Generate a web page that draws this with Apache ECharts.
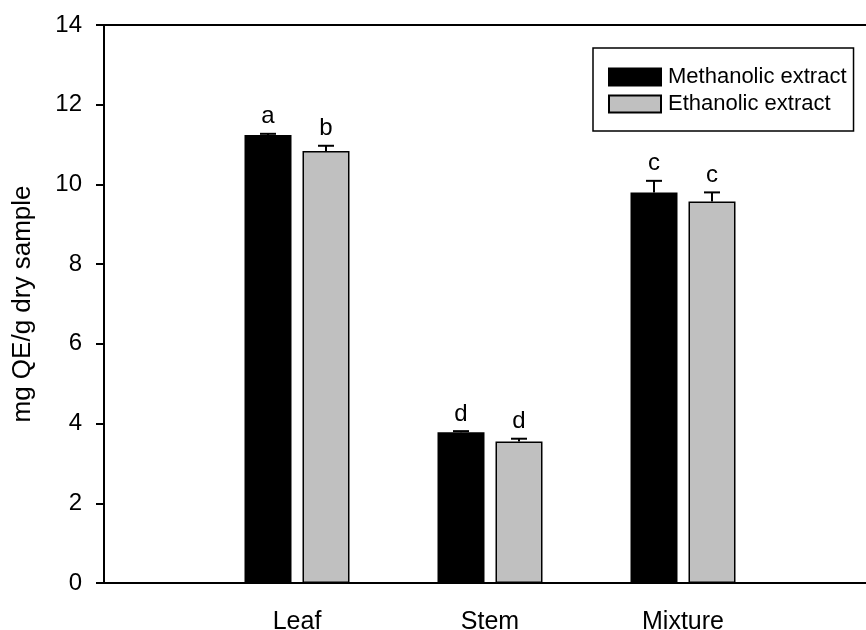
<!DOCTYPE html>
<html>
<head>
<meta charset="utf-8">
<script src="https://cdn.jsdelivr.net/npm/echarts@6/dist/echarts.min.js"></script>
<style>
  html, body { margin: 0; padding: 0; background: #fff; }
  #chart { width: 866px; height: 630px; }
</style>
</head>
<body>
<div id="chart"></div>
<script>
// Plant parts (empty slots pad the axis on both sides)
const categories = ['', 'Leaf', 'Stem', 'Mixture', ''];
// Total flavonoid content, mg QE/g dry sample
const methanolic = [null, 11.24, 3.78, 9.80, null];
const ethanolic = [null, 10.84, 3.55, 9.57, null];
// Standard deviations (upper error bars)
const methanolicErr = [null, 0.03, 0.03, 0.29, null];
const ethanolicErr = [null, 0.13, 0.07, 0.23, null];
// Significance letters
const methanolicLetters = ['', 'a', 'd', 'c', ''];
const ethanolicLetters = ['', 'b', 'd', 'c', ''];
const yTicks = { min: 0, max: 14, interval: 2 };

const FONT = '"Liberation Sans", Arial, sans-serif';
const BAR_W = 47;
const HALF_PITCH = 29; // distance from category centre to each bar centre

function errorSeries(values, errs, letters, offset) {
  const data = [];
  values.forEach((v, i) => {
    if (v != null) data.push([i, v, errs[i]]);
  });
  return {
    type: 'custom',
    z: 5,
    silent: true,
    data: data,
    renderItem: function (params, api) {
      const idx = api.value(0);
      const v = api.value(1);
      const e = api.value(2);
      const base = api.coord([idx, v]);
      const top = api.coord([idx, v + e]);
      const x = base[0] + offset;
      const stroke = { stroke: '#000', lineWidth: 2 };
      return {
        type: 'group',
        children: [
          { type: 'line', shape: { x1: x, y1: base[1], x2: x, y2: top[1] }, style: stroke },
          { type: 'line', shape: { x1: x - 8, y1: top[1], x2: x + 8, y2: top[1] }, style: stroke },
          {
            type: 'text',
            style: {
              text: letters[idx],
              x: x,
              y: top[1] - 5,
              textAlign: 'center',
              textVerticalAlign: 'bottom',
              font: '24px ' + FONT,
              fill: '#000'
            }
          }
        ]
      };
    }
  };
}

const chart = echarts.init(document.getElementById('chart'), null, { renderer: 'canvas' });
chart.setOption({
  animation: false,
  backgroundColor: '#fff',
  textStyle: { fontFamily: FONT, color: '#000' },
  grid: {
    left: 104, top: 25, width: 772, height: 558,
    containLabel: false,
    outerBoundsMode: 'none'
  },
  legend: {
    data: ['Methanolic extract', 'Ethanolic extract'],
    orient: 'vertical',
    left: 593,
    top: 48,
    padding: [18, 7, 16, 15],
    itemGap: 5,
    itemWidth: 52,
    itemHeight: 17,
    borderColor: '#000',
    borderWidth: 1.5,
    borderRadius: 0,
    backgroundColor: '#fff',
    icon: 'rect',
    textStyle: { fontSize: 22, color: '#000', fontFamily: FONT, padding: [0, 0, 0, 2] }
  },
  xAxis: [
    {
      type: 'category',
      data: categories,
      boundaryGap: false,
      axisLine: { show: true, lineStyle: { color: '#000', width: 2 } },
      axisTick: { show: false },
      axisLabel: { fontSize: 25, color: '#000', margin: 27, fontFamily: FONT },
      splitLine: { show: false }
    },
    {
      type: 'category',
      data: categories,
      position: 'top',
      boundaryGap: false,
      axisLine: { show: true, lineStyle: { color: '#000', width: 2 } },
      axisTick: { show: false },
      axisLabel: { show: false },
      splitLine: { show: false }
    }
  ],
  yAxis: {
    type: 'value',
    min: yTicks.min,
    max: yTicks.max,
    interval: yTicks.interval,
    name: 'mg QE/g dry sample',
    nameLocation: 'middle',
    nameGap: 68,
    nameTextStyle: { fontSize: 26, color: '#000', fontFamily: FONT },
    axisLine: { show: true, lineStyle: { color: '#000', width: 2 } },
    axisTick: { show: true, inside: false, length: 8, lineStyle: { color: '#000', width: 2 } },
    axisLabel: { fontSize: 24, color: '#000', margin: 22, fontFamily: FONT },
    splitLine: { show: false }
  },
  series: [
    {
      name: 'Methanolic extract',
      type: 'bar',
      data: methanolic,
      barWidth: BAR_W,
      barGap: ((2 * HALF_PITCH - BAR_W) / BAR_W * 100).toFixed(1) + '%',
      itemStyle: { color: '#000', borderColor: '#000', borderWidth: 1.5 }
    },
    {
      name: 'Ethanolic extract',
      type: 'bar',
      data: ethanolic,
      barWidth: BAR_W,
      itemStyle: { color: '#c0c0c0', borderColor: '#000', borderWidth: 1.5 }
    },
    errorSeries(methanolic, methanolicErr, methanolicLetters, -HALF_PITCH),
    errorSeries(ethanolic, ethanolicErr, ethanolicLetters, HALF_PITCH)
  ]
});
</script>
</body>
</html>
